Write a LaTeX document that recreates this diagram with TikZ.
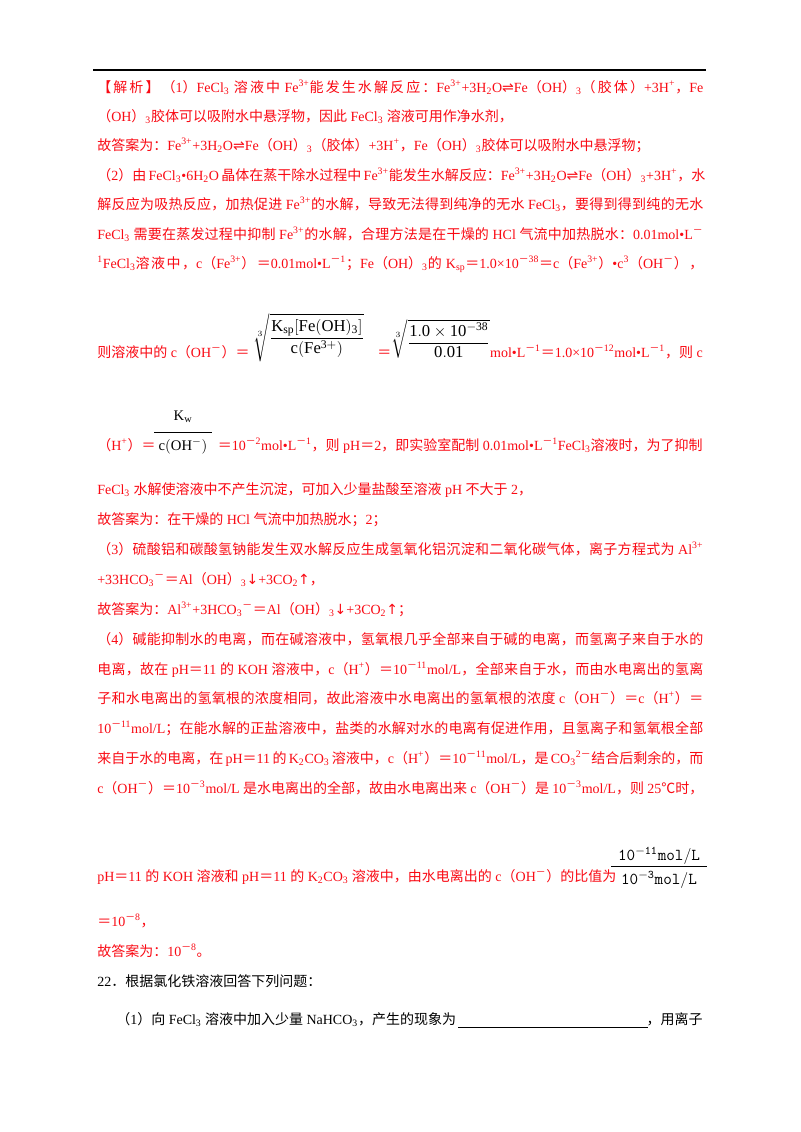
\documentclass[tikz,border=0pt]{standalone}
\usepackage{amsmath}
\usepackage{fontspec}
\setmainfont{Liberation Serif}
\newfontfamily\cjk{Noto Sans CJK SC}
\newfontfamily\lat{Liberation Serif}
\newfontfamily\dv{DejaVu Sans}
\XeTeXinterchartokenstate=1
\newXeTeXintercharclass\CJKcl
\makeatletter
\count@="4E00 \loop \XeTeXcharclass\count@=\CJKcl \advance\count@ 1 \ifnum\count@<"A000 \repeat
\count@="3000 \loop \XeTeXcharclass\count@=\CJKcl \advance\count@ 1 \ifnum\count@<"3040 \repeat
\count@="FF00 \loop \XeTeXcharclass\count@=\CJKcl \advance\count@ 1 \ifnum\count@<"FFF0 \repeat
\XeTeXcharclass"2103=\CJKcl
\makeatother
\XeTeXinterchartoks 0 \CJKcl={\cjk}
\XeTeXinterchartoks 4095 \CJKcl={\cjk}
\XeTeXinterchartoks \CJKcl 0={\lat}
\XeTeXinterchartoks \CJKcl 4095={\lat}
\XeTeXinterchartoks \CJKcl \CJKcl={\hskip0pt plus 3pt}
\newcommand\SP[1]{\textsuperscript{#1}}
\newcommand\SB[1]{\textsubscript{#1}}
\newcommand\full[1]{\makebox[454.5pt][s]{#1}}
\newcommand\eq{{\dv ⇌}}
\definecolor{ans}{RGB}{250,10,20}
\begin{document}
\begin{tikzpicture}[x=0.75pt,y=-0.75pt,
  ln/.style={anchor=base west,inner sep=0,font=\fontsize{10.5pt}{12pt}\selectfont,text=ans},
  bk/.style={ln,text=black},
  mth/.style={inner sep=0,font=\fontsize{12.5pt}{14pt}\selectfont},
  mts/.style={inner sep=0,font=\fontsize{11pt}{13pt}\selectfont}]
\useasboundingbox (0,0) rectangle (800,1132);
\fill[white] (0,0) rectangle (800,1132);
\draw[line width=0.8pt] (93,70) -- (706,70);
\node[ln] (l1) at (97,92) {\full{【解析】（1）FeCl\SB{3} 溶液中 Fe\SP{3+}能发生水解反应：Fe\SP{3+}+3H\SB{2}O\eq Fe（OH）\SB{3}（胶体）+3H\SP{+}，Fe}};
\node[ln] (l2) at (97,121) {（OH）\SB{3}胶体可以吸附水中悬浮物，因此 FeCl\SB{3} 溶液可用作净水剂，};
\node[ln] (l3) at (97,150) {故答案为：Fe\SP{3+}+3H\SB{2}O\eq Fe（OH）\SB{3}（胶体）+3H\SP{+}，Fe（OH）\SB{3}胶体可以吸附水中悬浮物；};
\node[ln] (l4) at (97,180) {\full{（2）由 FeCl\SB{3}•6H\SB{2}O 晶体在蒸干除水过程中 Fe\SP{3+}能发生水解反应：Fe\SP{3+}+3H\SB{2}O\eq Fe（OH）\SB{3}+3H\SP{+}，水}};
\node[ln] (l5) at (97,209) {\full{解反应为吸热反应，加热促进 Fe\SP{3+}的水解，导致无法得到纯净的无水 FeCl\SB{3}，要得到得到纯的无水}};
\node[ln] (l6) at (97,239) {\full{FeCl\SB{3} 需要在蒸发过程中抑制 Fe\SP{3+}的水解，合理方法是在干燥的 HCl 气流中加热脱水：0.01mol•L\SP{－}}};
\node[ln] (l7) at (97,268) {\full{\SP{1}FeCl\SB{3}溶液中，c（Fe\SP{3+}）＝0.01mol•L\SP{－1}；Fe（OH）\SB{3}的 K\SB{sp}＝1.0×10\SP{－38}＝c（Fe\SP{3+}）•c\SP{3}（OH\SP{－}），}};
% radical line
\node[ln] (r0) at (97,357) {则溶液中的 c（OH\SP{－}）＝};
\node[mth,anchor=south west] (r1) at (253,362) {$\sqrt[3]{\dfrac{\mathrm{K_{sp}[Fe(OH)_3]}}{\mathrm{c(Fe^{3+})}}}$};
\node[ln] (r2) at (377,357) {＝};
\node[mth,anchor=south west] (r3) at (391,359) {$\sqrt[3]{\dfrac{\mathrm{1.0\times10^{-38}}}{\mathrm{0.01}}}$};
\node[ln,anchor=base east] (r4) at (703,357) {mol•L\SP{－1}＝1.0×10\SP{－12}mol•L\SP{－1}，则 c};
% Kw line
\node[ln] (h0) at (97,450) {（H\SP{+}）＝};
\node[mts,anchor=base] (kw) at (183,420) {$\mathrm{K_w}$};
\draw (154,432) -- (212,432);
\node[mts,anchor=base] (coh) at (183,450) {$\mathrm{c(OH^-)}$};
\node[ln,anchor=base east] (h1) at (703,450) {＝10\SP{－2}mol•L\SP{－1}，则 pH＝2，即实验室配制 0.01mol•L\SP{－1}FeCl\SB{3}溶液时，为了抑制};
\node[ln] (l8) at (97,494) {FeCl\SB{3} 水解使溶液中不产生沉淀，可加入少量盐酸至溶液 pH 不大于 2，};
\node[ln] (l9) at (97,524) {故答案为：在干燥的 HCl 气流中加热脱水；2；};
\node[ln] (l10) at (97,554) {\full{（3）硫酸铝和碳酸氢钠能发生双水解反应生成氢氧化铝沉淀和二氧化碳气体，离子方程式为 Al\SP{3+}}};
\node[ln] (l11) at (97,584) {+33HCO\SB{3}\SP{－}＝Al（OH）\SB{3}{\dv↓}+3CO\SB{2}{\dv↑}，};
\node[ln] (l12) at (97,614) {故答案为：Al\SP{3+}+3HCO\SB{3}\SP{－}＝Al（OH）\SB{3}{\dv↓}+3CO\SB{2}{\dv↑}；};
\node[ln] (l13) at (97,644) {\full{（4）碱能抑制水的电离，而在碱溶液中，氢氧根几乎全部来自于碱的电离，而氢离子来自于水的}};
\node[ln] (l14) at (97,674) {\full{电离，故在 pH＝11 的 KOH 溶液中，c（H\SP{+}）＝10\SP{－11}mol/L，全部来自于水，而由水电离出的氢离}};
\node[ln] (l15) at (97,703) {\full{子和水电离出的氢氧根的浓度相同，故此溶液中水电离出的氢氧根的浓度 c（OH\SP{－}）＝c（H\SP{+}）＝}};
\node[ln] (l16) at (97,733) {\full{10\SP{－11}mol/L；在能水解的正盐溶液中，盐类的水解对水的电离有促进作用，且氢离子和氢氧根全部}};
\node[ln] (l17) at (97,763) {\full{来自于水的电离，在 pH＝11 的 K\SB{2}CO\SB{3} 溶液中，c（H\SP{+}）＝10\SP{－11}mol/L，是 CO\SB{3}\SP{2－}结合后剩余的，而}};
\node[ln] (l18) at (97,793) {\full{c（OH\SP{－}）＝10\SP{－3}mol/L 是水电离出的全部，故由水电离出来 c（OH\SP{－}）是 10\SP{－3}mol/L，则 25℃时，}};
\node[ln] (l19) at (97,881) {pH＝11 的 KOH 溶液和 pH＝11 的 K\SB{2}CO\SB{3} 溶液中，由水电离出的 c（OH\SP{－}）的比值为};
\node[mth,anchor=base] (fn) at (659,860) {$\mathtt{10^{-11}mol/L}$};
\draw (611,866) -- (707,866);
\node[mth,anchor=base] (fd) at (659,884) {$\mathtt{10^{-3}mol/L}$};
\node[ln] (l20) at (97,926) {＝10\SP{－8}，};
\node[ln] (l21) at (97,956) {故答案为：10\SP{－8}。};
\node[bk] (q22) at (97,986) {22．根据氯化铁溶液回答下列问题：};
\node[bk] (q1) at (116,1024) {（1）向 FeCl\SB{3} 溶液中加入少量 NaHCO\SB{3}，产生的现象为};
\coordinate (u1) at (458,1027);
\coordinate (u2) at (648,1027);
\draw[line width=0.5pt] (u1) -- (u2);
\node[bk,anchor=base east] (q1b) at (703,1024) {，用离子};
\end{tikzpicture}
\end{document}
